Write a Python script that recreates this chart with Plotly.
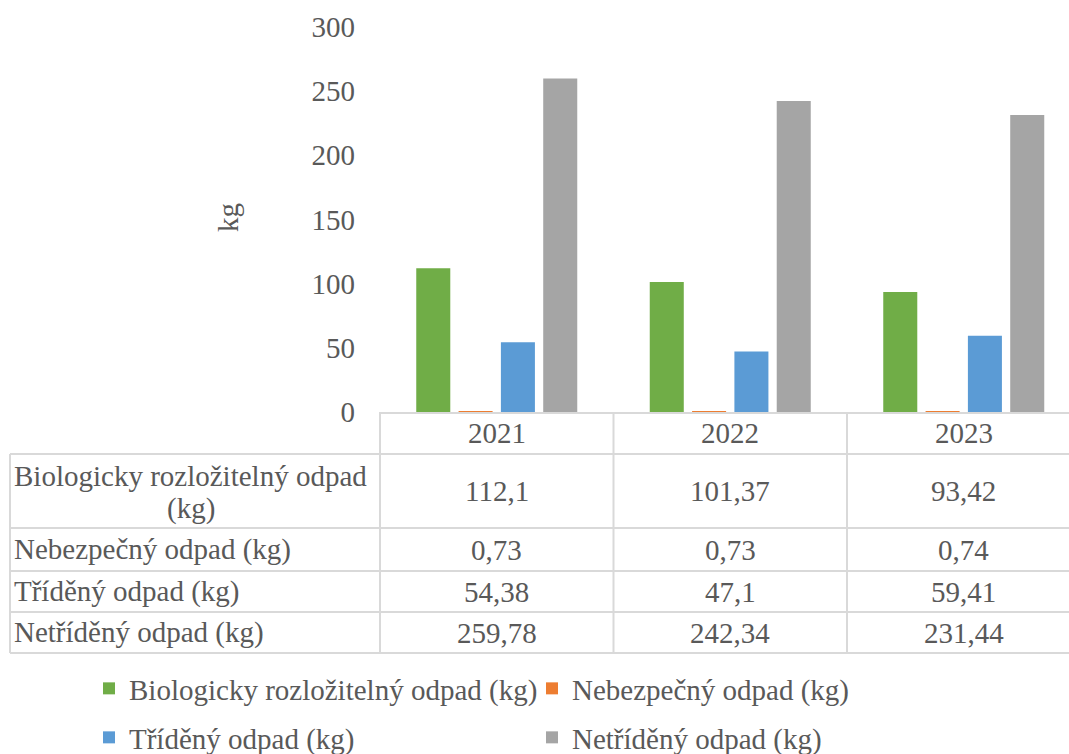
import plotly.graph_objects as go

# Waste per year (kg)
years = [2021, 2022, 2023]
series_names = [
    "Biologicky rozložitelný odpad (kg)",
    "Nebezpečný odpad (kg)",
    "Tříděný odpad (kg)",
    "Netříděný odpad (kg)",
]
bio_waste = [112.1, 101.37, 93.42]
hazardous_waste = [0.73, 0.73, 0.74]
sorted_waste = [54.38, 47.1, 59.41]
unsorted_waste = [259.78, 242.34, 231.44]
y_ticks = [0, 50, 100, 150, 200, 250, 300]

series_values = [bio_waste, hazardous_waste, sorted_waste, unsorted_waste]
colors = ["#70AD47", "#ED7D31", "#5B9BD5", "#A5A5A5"]

FONT = "Liberation Serif"
TXT = "#595959"
GRID = "#D9D9D9"
FS = 29

W, H = 1069, 754
L, T, B = 380, 27, 342
PW, PH = W - L, H - T - B
CAT_PX = 233.5
x0 = years[0] - 0.5
x1 = x0 + PW / CAT_PX


def px(x):
    return (x - L) / PW


def py(y):
    return (H - B - y) / PH


def data_x(v):
    return (v - x0) / (x1 - x0)


def fmt(v):
    return f"{v:g}".replace(".", ",")


def label(text, x, y, xref="paper", xanchor="center", **kw):
    return dict(x=x, xref=xref, y=py(y), yref="paper", text=text,
                showarrow=False, xanchor=xanchor, yanchor="middle",
                font=dict(family=FONT, size=FS, color=TXT), **kw)


fig = go.Figure()
for name, vals, col in zip(series_names, series_values, colors):
    fig.add_trace(go.Bar(
        x=years, y=vals, name=name, marker=dict(color=col, line=dict(width=0)),
        legend="legend" if name in series_names[:2] else "legend2",
    ))

shapes = []
line = dict(color=GRID, width=2)
# horizontal rules of the data table
for yy in [454, 528, 571, 612, 653]:
    shapes.append(dict(type="line", xref="paper", yref="paper",
                       x0=px(10), x1=1.02, y0=py(yy), y1=py(yy), line=line))
# left border of the row labels
shapes.append(dict(type="line", xref="paper", yref="paper",
                   x0=px(10), x1=px(10), y0=py(454), y1=py(653), line=line))
# column separators between categories
for yr in years:
    xb = data_x(yr - 0.5)
    shapes.append(dict(type="line", xref="paper", yref="paper",
                       x0=xb, x1=xb, y0=py(412), y1=py(653), line=line))

annotations = []
# year headers
for yr in years:
    annotations.append(label(str(yr), yr, 433, xref="x"))
row_centers = [491, 549.5, 591.5, 632.5]
for vals, yc in zip(series_values, row_centers):
    for yr, v in zip(years, vals):
        annotations.append(label(fmt(v), yr, yc, xref="x"))
# row labels
first_words, first_unit = series_names[0].rsplit(" ", 1)
annotations.append(label(first_words, px(12), 476, xanchor="left"))
annotations.append(label(first_unit, px(191), 508))
for name, yc in zip(series_names[1:], row_centers[1:]):
    annotations.append(label(name, px(12), yc, xanchor="left"))
# y axis title
annotations.append(label("kg", px(228), 218, textangle=-90))

legend_common = dict(
    orientation="h", xanchor="left", yanchor="top",
    font=dict(family=FONT, size=FS, color=TXT),
    bgcolor="rgba(0,0,0,0)", entrywidth=398, entrywidthmode="pixels",
    itemclick=False, itemdoubleclick=False,
)

fig.update_layout(
    width=W, height=H,
    margin=dict(l=L, r=0, t=T, b=B, autoexpand=False),
    paper_bgcolor="white", plot_bgcolor="white",
    barmode="group", bargap=0.275, bargroupgap=0.196,
    separators=", ",
    font=dict(family=FONT, size=FS, color=TXT),
    xaxis=dict(range=[x0, x1], showticklabels=False, ticks="", showgrid=False,
               zeroline=False, showline=True, linecolor=GRID, linewidth=2),
    yaxis=dict(range=[0, 300], tickvals=y_ticks, showgrid=False, zeroline=False,
               ticks="", ticklabelstandoff=24,
               tickfont=dict(family=FONT, size=FS, color=TXT)),
    shapes=shapes, annotations=annotations,
    legend=dict(x=px(89), y=py(663), **legend_common),
    legend2=dict(x=px(89), y=py(712), **legend_common),
    showlegend=True,
)

fig.write_html("out.html")
